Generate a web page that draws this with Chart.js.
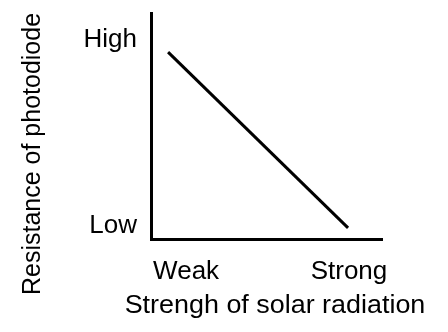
<!DOCTYPE html>
<html>
<head>
<meta charset="utf-8">
<script src="https://cdn.jsdelivr.net/npm/chart.js@4/dist/chart.umd.min.js"></script>
<style>
  html, body { margin: 0; padding: 0; background: #fff; }
  #wrap { width: 448px; height: 332px; }
</style>
</head>
<body>
<div id="wrap"><canvas id="c" width="448" height="332"></canvas></div>
<script>
// ---- data ----
const xTickLabels = ['Weak', 'Strong'];
const xTickValues = [15.2, 85.7];
const yTickLabels = ['Low', 'High'];
const yTickValues = [5.8, 88.0];
const lineX = [7.4, 85.3];
const lineY = [82.7, 4.9];
const xTitle = 'Strengh of solar radiation';
const yTitle = 'Resistance of photodiode';

const FONT = '"Liberation Sans", Arial, Helvetica, sans-serif';

const titlePlugin = {
  id: 'axisTitles',
  afterDraw(chart) {
    const ctx = chart.ctx;
    ctx.save();
    ctx.fillStyle = '#000';
    ctx.textAlign = 'center';
    ctx.textBaseline = 'alphabetic';
    ctx.save();
    ctx.font = '26px ' + FONT;
    ctx.translate(275, 313);
    ctx.scale(1.035, 1);
    ctx.fillText(xTitle, 0, 0);
    ctx.restore();
    ctx.font = '25px ' + FONT;
    ctx.translate(40, 154);
    ctx.rotate(-Math.PI / 2);
    ctx.fillText(yTitle, 0, 0);
    ctx.restore();
  }
};

new Chart(document.getElementById('c'), {
  type: 'line',
  data: {
    datasets: [{
      data: lineX.map((x, i) => ({ x: x, y: lineY[i] })),
      borderColor: '#000',
      borderWidth: 3,
      pointRadius: 0,
      tension: 0,
      fill: false
    }]
  },
  options: {
    responsive: false,
    animation: false,
    devicePixelRatio: 1,
    layout: { padding: { left: 0, top: 13, right: 66, bottom: 0 } },
    plugins: { legend: { display: false }, tooltip: { enabled: false } },
    scales: {
      x: {
        type: 'linear',
        min: 0, max: 100,
        afterBuildTicks: axis => { axis.ticks = xTickValues.map(v => ({ value: v })); },
        afterFit: s => { s.height = 93; s.paddingLeft = 0; s.paddingRight = 0; },
        grid: { display: false, drawTicks: false },
        border: { display: true, color: '#000', width: 3 },
        ticks: {
          autoSkip: false, maxRotation: 0, padding: 17,
          color: '#000', font: { family: FONT, size: 26 },
          callback: (v, i) => xTickLabels[i]
        }
      },
      y: {
        type: 'linear',
        min: 0, max: 100,
        afterBuildTicks: axis => { axis.ticks = yTickValues.map(v => ({ value: v })); },
        afterFit: s => { s.width = 151; s.paddingTop = 0; s.paddingBottom = 0; },
        grid: { display: false, drawTicks: false },
        border: { display: true, color: '#000', width: 3 },
        ticks: {
          autoSkip: false, padding: 14,
          color: '#000', font: { family: FONT, size: 26 },
          callback: (v, i) => yTickLabels[i]
        }
      }
    }
  },
  plugins: [titlePlugin]
});
</script>
</body>
</html>
